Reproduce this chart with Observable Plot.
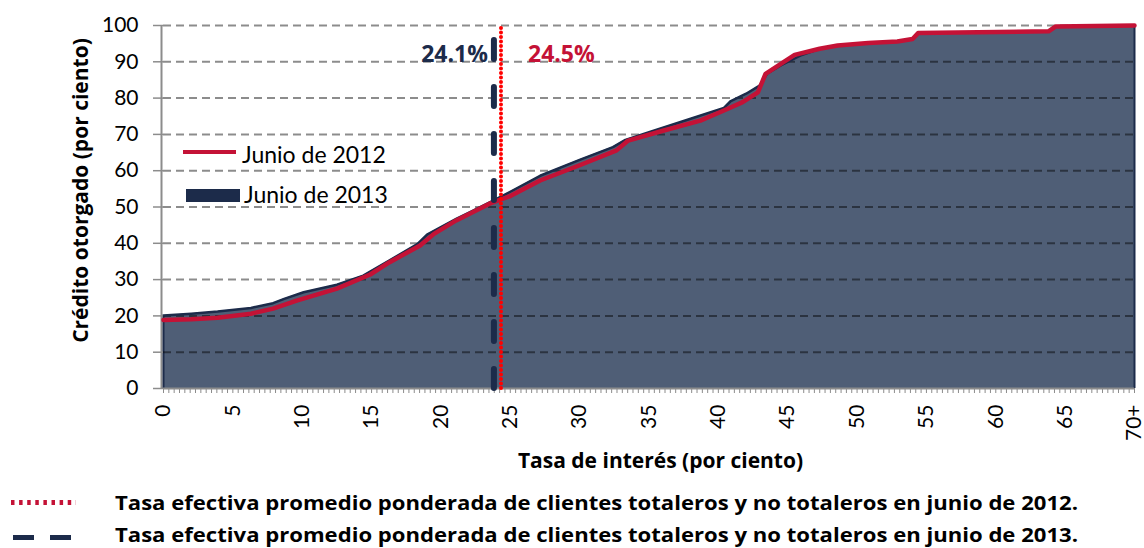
<!DOCTYPE html>
<html>
<head>
<meta charset="utf-8">
<script src="https://cdn.jsdelivr.net/npm/d3@7"></script>
<script src="https://cdn.jsdelivr.net/npm/@observablehq/plot@0.6"></script>
<style>
  body { margin: 0; background: #fff; }
  #wrap { position: relative; width: 1144px; height: 548px; overflow: hidden; font-family: Lato, "Open Sans", sans-serif; }
  #wrap > svg.over { position: absolute; left: 0; top: 0; pointer-events: none; }
</style>
</head>
<body>
<div id="wrap"></div>
<script>
// ---- Data ----
const tasa2013 = [0, 2, 3.9, 6.3, 7.9, 8.7, 10.1, 12.5, 14.4, 16.3, 18.3, 19.0, 20.2, 21.1, 22.1, 23.8, 25, 27.15, 30, 32.4, 33.3, 35, 38, 40.4, 40.9, 42.0, 43.0, 43.5, 44.5, 45.9, 47.3, 48.6, 50.8, 52.9, 54.0, 54.4, 63.8, 64.3, 70];
const credito2013 = [20.1, 20.6, 21.2, 22.2, 23.5, 24.7, 26.5, 28.6, 31.1, 35.3, 39.8, 42.4, 44.9, 46.7, 48.6, 51.8, 54.2, 58.6, 63.0, 66.5, 68.5, 70.6, 74.3, 77.3, 79.2, 81.2, 83.5, 86.7, 89.0, 91.7, 93.6, 94.5, 95.2, 95.6, 96.3, 97.9, 98.4, 99.7, 100];
const tasa2012 = [0, 2, 3.9, 6.3, 7.9, 9.6, 12.5, 14.9, 16.3, 18.5, 19.5, 21.1, 23.5, 25, 27.15, 30, 32.66, 33.5, 36, 38.7, 40.4, 41.75, 42.85, 43.4, 44.5, 45.5, 47.3, 48.6, 50.8, 52.9, 54.0, 54.4, 63.8, 64.3, 70];
const credito2012 = [18.9, 19.1, 19.5, 20.6, 22.0, 24.2, 27.5, 31.4, 34.8, 39.4, 42.6, 46.3, 50.9, 53.0, 57.3, 61.5, 65.6, 68.3, 71.0, 73.8, 76.6, 78.9, 81.6, 86.7, 89.4, 91.9, 93.6, 94.5, 95.2, 95.6, 96.3, 97.9, 98.4, 99.7, 100];

const xTicks = [0, 5, 10, 15, 20, 25, 30, 35, 40, 45, 50, 55, 60, 65, 70];
const xTickLabels = ["0", "5", "10", "15", "20", "25", "30", "35", "40", "45", "50", "55", "60", "65", "70+"];
const yTicks = [0, 10, 20, 30, 40, 50, 60, 70, 80, 90, 100];

// weighted average effective rates (labels) and where their rules sit on the axis
const promedioEtiquetas = ["24.5%", "24.1%"];
const promedioPos = [24.33, 23.82];
const promedioTope = [99.2, 95.9];

const serieNombres = ["Junio de 2012", "Junio de 2013"];
const notas = [
  "Tasa efectiva promedio ponderada de clientes totaleros y no totaleros en junio de 2012.",
  "Tasa efectiva promedio ponderada de clientes totaleros y no totaleros en junio de 2013."
];

// ---- Build tables ----
const d2013 = tasa2013.map((x, i) => ({x, y: credito2013[i]}));
const d2012 = tasa2012.map((x, i) => ({x, y: credito2012[i]}));
const minorTicks = d3.range(0, 70.0001, 5 / 13);

const NAVY = "#1C2B4A";
const FILL = "#4F5E76";
const RED = "#C41236";
const GRAY = "#8c8c8c";
const BOLDFONT = "'Open Sans', Lato, sans-serif";

const chart = Plot.plot({
  width: 1144,
  height: 480,
  marginTop: 25,
  marginBottom: 92,
  marginLeft: 163,
  marginRight: 10,
  style: {fontFamily: "Lato, 'Open Sans', sans-serif", fontSize: "21px", color: "#000", background: "#fff"},
  x: {domain: [0, 70], label: null},
  y: {domain: [0, 100], label: null},
  marks: [
    Plot.ruleX([0], {stroke: GRAY, strokeWidth: 2, dx: -2}),
    Plot.areaY(d2013, {x: "x", y: "y", fill: FILL}),
    Plot.ruleX([d2013[0], d2013[d2013.length - 1]], {x: "x", y1: 0, y2: "y", stroke: NAVY, strokeWidth: 2}),
    Plot.gridY(yTicks.filter(d => d > 0), {stroke: "#000", strokeOpacity: 0.45, strokeDasharray: "8,5", strokeWidth: 2}),
    Plot.line(d2013, {x: "x", y: "y", stroke: NAVY, strokeWidth: 2.5}),
    Plot.line(d2012, {x: "x", y: "y", stroke: RED, strokeWidth: 4.5}),
    Plot.ruleY([0], {stroke: GRAY, strokeWidth: 2}),
    Plot.axisY({ticks: yTicks, tickSize: 10, tickPadding: 15, stroke: GRAY, strokeWidth: 1.5, label: null, fill: "#000", fontSize: 21}),
    Plot.axisX({ticks: minorTicks, tickSize: 5, tickFormat: () => "", stroke: GRAY, label: null}),
    Plot.axisX({ticks: xTicks, tickSize: 0, tickPadding: 16, tickRotate: -90, tickFormat: d => xTickLabels[xTicks.indexOf(d)], label: null, fill: "#000", fontSize: 21}),
    Plot.ruleX([promedioPos[1]], {y1: 0, y2: promedioTope[1], stroke: NAVY, strokeWidth: 6, strokeDasharray: "19,28", strokeLinecap: "round"}),
    Plot.ruleX([promedioPos[0]], {y1: 0, y2: promedioTope[0], stroke: "#FF0000", strokeWidth: 4, strokeDasharray: "0,4.5", strokeLinecap: "round"}),
    Plot.text([promedioEtiquetas[1]], {x: () => promedioPos[1], text: d => d, frameAnchor: "top", dy: 20, dx: -6, textAnchor: "end", fill: NAVY, fontWeight: "bold", fontSize: 23, fontFamily: BOLDFONT}),
    Plot.text([promedioEtiquetas[0]], {x: () => promedioPos[0], text: d => d, frameAnchor: "top", dy: 20, dx: 27, textAnchor: "start", fill: RED, fontWeight: "bold", fontSize: 23, fontFamily: BOLDFONT}),
    Plot.text(["Tasa de interés (por ciento)"], {frameAnchor: "bottom", dx: 11.5, dy: 79, fontWeight: "bold", fontSize: 21, fill: "#000", fontFamily: BOLDFONT}),
    Plot.text(["Crédito otorgado (por ciento)"], {frameAnchor: "left", textAnchor: "middle", dx: -82, dy: -16.5, rotate: -90, fontWeight: "bold", fontSize: 21, fill: "#000", fontFamily: BOLDFONT})
  ]
});

const wrap = document.getElementById("wrap");
wrap.appendChild(chart);

// ---- Legends (inside the plot, and notes below it) ----
const over = d3.select(wrap).append("svg").attr("class", "over").attr("width", 1144).attr("height", 548)
  .style("font-family", "Lato, 'Open Sans', sans-serif");

over.append("line").attr("x1", 183).attr("x2", 236).attr("y1", 152).attr("y2", 152).attr("stroke", RED).attr("stroke-width", 4);
over.append("text").attr("x", 242).attr("y", 163).attr("font-size", 23).text(serieNombres[0]);
over.append("rect").attr("x", 186).attr("y", 189).attr("width", 54).attr("height", 13).attr("fill", NAVY);
over.append("text").attr("x", 244).attr("y", 203).attr("font-size", 23).text(serieNombres[1]);

over.append("line").attr("x1", 11).attr("x2", 76).attr("y1", 502.5).attr("y2", 502.5).attr("stroke", RED).attr("stroke-width", 5).attr("stroke-dasharray", "3.5,4.6");
over.append("line").attr("x1", 13).attr("x2", 72).attr("y1", 537.5).attr("y2", 537.5).attr("stroke", NAVY).attr("stroke-width", 5).attr("stroke-dasharray", "21,16");
over.append("text").attr("x", 115).attr("y", 510).attr("font-size", 20).attr("font-weight", "bold").attr("font-family", BOLDFONT)
  .attr("textLength", 963).attr("lengthAdjust", "spacingAndGlyphs").text(notas[0]);
over.append("text").attr("x", 115).attr("y", 542).attr("font-size", 20).attr("font-weight", "bold").attr("font-family", BOLDFONT)
  .attr("textLength", 963).attr("lengthAdjust", "spacingAndGlyphs").text(notas[1]);
</script>
</body>
</html>
